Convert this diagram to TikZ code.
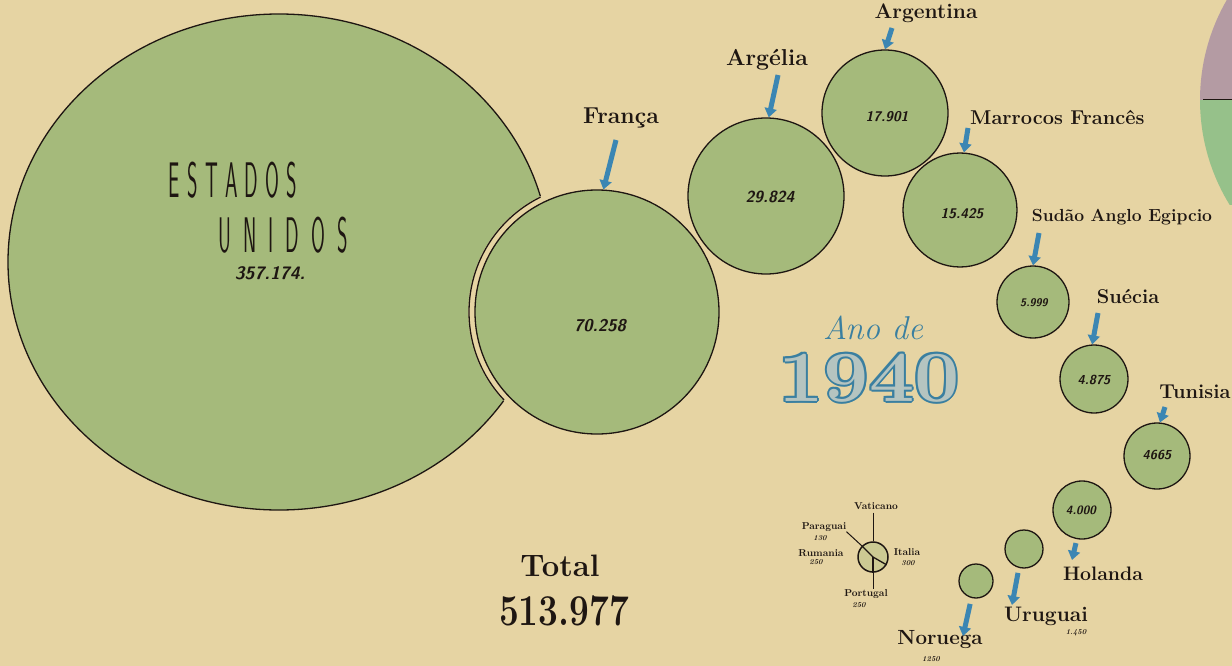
\documentclass[tikz,border=0pt]{standalone}
\usepackage{fontspec}
\usepackage{graphicx}
\usetikzlibrary{arrows.meta}
\definecolor{bg}{HTML}{E6D4A3}
\definecolor{gr}{HTML}{A5BA7B}
\definecolor{ab}{HTML}{3B86B3}
\definecolor{ink}{HTML}{1E1612}
\definecolor{mauve}{HTML}{B49BA3}
\definecolor{gr2}{HTML}{96C18A}
\definecolor{anob}{HTML}{3A7FA0}
\definecolor{numfill}{HTML}{B5C4C0}
\begin{document}
\begin{tikzpicture}[x=1pt,y=-1pt,
  bub/.style={circle,draw=ink,fill=gr,line width=1.3pt,inner sep=0pt,minimum size=#1},
  lab/.style={font=\fontsize{#1}{#1}\selectfont\bfseries,text=ink,inner sep=0pt},
  lab/.default=21,
  val/.style={font=\fontsize{#1}{#1}\selectfont\sffamily\bfseries\itshape,text=ink,inner sep=0pt},
  small/.style={font=\fontsize{10}{10}\selectfont\bfseries,text=ink,inner sep=0pt},
  tiny/.style={font=\fontsize{7.5}{7.5}\selectfont\bfseries\itshape,text=ink,inner sep=0pt},
  arr/.style={draw=ab,line width=5pt,-{Triangle[width=12pt,length=9pt]}},
  thin/.style={draw=ink,line width=1pt},
  deco/.style={font=\fontsize{50}{50}\selectfont\sffamily,text=ink,inner sep=0pt},
  big/.style={font=\fontsize{72}{72}\selectfont\bfseries,inner sep=0pt}]
\fill[bg] (0,0) rectangle (1232,666);
\useasboundingbox (0,0) rectangle (1232,666);

% top-right partial chart
\begin{scope}
  \clip (1400,100) circle (200);
  \fill[mauve] (1190,-5) rectangle (1240,100);
  \fill[gr2] (1190,100) rectangle (1240,205);
\end{scope}
\draw[ink,line width=1pt] (1203,100) -- (1232,100);

% Estados Unidos
\fill[gr] (279,262) ellipse [x radius=271, y radius=248];
\draw[ink,line width=1.3pt] (279,262) ellipse [x radius=271, y radius=248];
\fill[bg] (597,312) circle (128.8);
\begin{scope}
  \clip (279,262) ellipse [x radius=271, y radius=248];
  \draw[ink,line width=1.3pt] (597,312) circle (128);
\end{scope}
\node[deco] (us1) at (233,180)
  {\scalebox{0.4}[1]{E\kern18pt S\kern18pt T\kern18pt A\kern18pt D\kern18pt O\kern18pt S}};
\node[deco] (us2) at (283,235)
  {\scalebox{0.4}[1]{U\kern30pt N\kern30pt I\kern30pt D\kern30pt O\kern30pt S}};
\node[val=18] (usv) at (270,273) {357.174.};

% circles
\node[bub=244pt] (fr) at (597,312) {};
\node[val=17] (frv) at (600,326) {70.258};
\node[bub=156pt] (ag) at (766,196) {};
\node[val=16] (agv) at (770,197) {29.824};
\node[bub=126pt] (ar) at (885,113) {};
\node[val=14] (arv) at (887,117) {17.901};
\node[bub=114pt] (ma) at (960,210) {};
\node[val=14] (mav) at (962,214) {15.425};
\node[bub=72pt] (su) at (1033,302) {};
\node[val=11] (suv) at (1034,303) {5.999};
\node[bub=68pt] (se) at (1094,379) {};
\node[val=13] (sev) at (1094,380) {4.875};
\node[bub=66pt] (tu) at (1157,456) {};
\node[val=13] (tuv) at (1157,455) {4665};
\node[bub=58pt] (ho) at (1082,510) {};
\node[val=12] (hov) at (1081,510) {4.000};
\node[bub=38pt] (ur) at (1024,549) {};
\node[bub=34pt] (no) at (976,581) {};

% labels
\node[lab=23] (lfr) at (621,118) {França};
\node[lab=23] (lag) at (767,60) {Argélia};
\node[lab=21] (lar) at (926,13) {Argentina};
\node[lab=20,anchor=west] (lma) at (970,117) {Marrocos Francês};
\node[lab=17.5] (lsu) at (1122,217) {Sudão Anglo Egipcio};
\node[lab=20] (lse) at (1128,297) {Suécia};
\node[lab=20] (ltu) at (1195,392) {Tunisia};
\node[lab=19.5] (lho) at (1103,574) {Holanda};
\node[lab=21] (lur) at (1046,616) {Uruguai};
\node[tiny] (lurv) at (1076,633) {1.450};
\node[lab=20.5] (lno) at (940,640) {Noruega};
\node[tiny] (lnov) at (931,659) {1250};

% arrows
\coordinate (afr) at (616,140);
\coordinate (aag) at (778,75);
\coordinate (aar) at (892,28);
\coordinate (ama) at (968,128);
\coordinate (asu) at (1039,233);
\coordinate (ase) at (1098,313);
\coordinate (atu) at (1165,407);
\coordinate (aho) at (1072,560);
\coordinate (aur) at (1012,605);
\coordinate (ano) at (963,636);
\draw[arr] (afr) -- (fr.87);
\draw[arr] (aag) -- (ag.88);
\draw[arr] (aar) -- (ar.north);
\draw[arr] (ama) -- (ma.86);
\draw[arr] (asu) -- (su.north);
\draw[arr] (ase) -- (se.93);
\draw[arr] (atu) -- (tu.85);
\draw[arr,shorten <=4pt] (ho.-100) -- (aho);
\draw[arr,shorten <=5pt] (ur.-105) -- (aur);
\draw[arr,shorten <=6pt] (no.-105) -- (ano);

% Ano de 1940
\node[font=\fontsize{33}{33}\selectfont\itshape,text=anob,inner sep=0pt] (ano1) at (873,328) {Ano de};
\foreach \dx/\dy [count=\k] in {2/0,-2/0,0/2,0/-2,1.5/1.5,-1.5/1.5,1.5/-1.5,-1.5/-1.5}
  \node[big,text=anob] (sh\k) at (869+\dx,378+\dy) {\scalebox{1.12}[1]{1940}};
\node[big,text=numfill] (yr) at (869,378) {\scalebox{1.12}[1]{1940}};

% Total
\node[font=\fontsize{31}{31}\selectfont\bfseries,text=ink,inner sep=0pt] (tot) at (560,566) {Total};
\node[font=\fontsize{44}{44}\selectfont\bfseries,text=ink,inner sep=0pt] (totv) at (564,611) {\scalebox{0.8}[1]{513.977}};

% small pie
\node[circle,draw=ink,fill=gr!40!bg,line width=1.5pt,minimum size=30pt,inner sep=0pt] (pie) at (873,557) {};
\draw[thin,line width=1.3pt] (pie.center) -- (pie.135);
\draw[thin,line width=1.3pt] (pie.center) -- (pie.270);
\draw[thin,line width=1.3pt] (pie.center) -- (pie.-30);
\node[small] (vat) at (876,506) {Vaticano};
\node[small] (par) at (824,527) {Paraguai};
\node[tiny] (parv) at (820,538) {130};
\node[small] (rum) at (821,553) {Rumania};
\node[tiny] (rumv) at (816,562) {250};
\node[small] (ita) at (907,552) {Italia};
\node[tiny] (itav) at (908,563) {300};
\node[small] (por) at (866,594) {Portugal};
\node[tiny] (porv) at (859,605) {250};
\draw[thin] (vat.south -| pie.north) ++(0,3) -- (pie.north);
\draw[thin] (pie.south) -- (pie.south |- por.north);
\draw[thin] (par.south east) -- (pie.135);
\end{tikzpicture}
\end{document}
